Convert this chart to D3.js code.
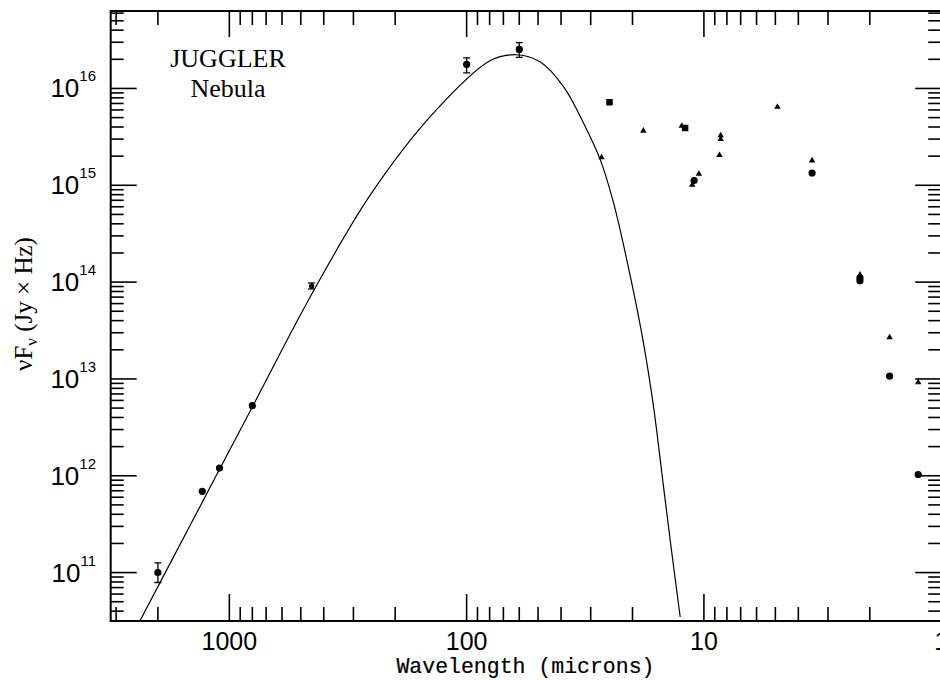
<!DOCTYPE html>
<html><head><meta charset="utf-8">
<script src="https://cdn.jsdelivr.net/npm/d3@7"></script>
<style>body{margin:0;background:#fff}</style>
</head><body>
<svg id="c" width="940" height="680"></svg>
<script>
// ---- axis ticks ----
const xMajorTicks = [1000, 100, 10, 1];
const xTickLabels = ["1000", "100", "10", "1"];
const yMajorTicks = [1e11, 1e12, 1e13, 1e14, 1e15, 1e16];
const yTickExponents = ["11", "12", "13", "14", "15", "16"];

// ---- photometry (wavelength in microns, nuFnu in Jy x Hz) ----
const circleWave = [2000, 1300, 1100, 800, 100, 60, 11, 3.5, 2.2, 2.2, 1.65, 1.25];
const circleFlux = [1.0e11, 6.9e11, 1.2e12, 5.3e12, 1.77e16, 2.53e16, 1.12e15, 1.34e15, 1.03e14, 1.1e14, 1.07e13, 1.03e12];
const smallWave = [450];
const smallFlux = [9.1e13];
const squareWave = [25, 12];
const squareFlux = [7.2e15, 3.9e15];
const triWave = [27, 18, 12.4, 8.5, 8.5, 8.6, 10.5, 11.2, 4.9, 3.5, 2.2, 1.65, 1.25];
const triFlux = [1.94e15, 3.65e15, 4.1e15, 3.27e15, 3.0e15, 2.05e15, 1.31e15, 1.01e15, 6.45e15, 1.8e15, 1.19e14, 2.68e13, 9.2e12];
const errWave = [2000, 450, 100, 60];
const errLow = [7.9e10, 8.5e13, 1.45e16, 2.09e16];
const errHigh = [1.26e11, 9.8e13, 2.07e16, 2.98e16];

// ---- model curve ----
const curveWave = [2403, 1455, 796, 454.7, 254.2, 137.5, 79.4, 62.3, 48.9, 39.0, 32.1, 27.3, 24.0, 20.4, 17.96, 16.3, 15.03, 13.87, 12.59];
const curveFlux = [3.04e10, 3.16e11, 5.26e12, 7.15e13, 8.0e14, 5.62e15, 1.94e16, 2.23e16, 1.88e16, 1.04e16, 4.35e15, 1.82e15, 6.49e14, 1.13e14, 2.32e13, 5.14e12, 1.05e12, 2.16e11, 3.48e10];

const svg = d3.select("#c");
const L = 110.7, R = 941.2, T = 11, B = 621;
const x = d3.scaleLog().domain([Math.pow(10, 3.5), 1]).range([L, R]);
const y = d3.scaleLog().domain([Math.pow(10, 10.5), Math.pow(10, 16.8)]).range([B, T]);

// minor ticks
const xMinor = [], yMinor = [];
for (let d = 0; d <= 3; d++) for (let k = 2; k <= 9; k++) {
  const v = k * Math.pow(10, d);
  if (v <= x.domain()[0]) xMinor.push(v);
}
for (let d = 10; d <= 16; d++) for (let k = 2; k <= 9; k++) {
  const v = k * Math.pow(10, d);
  if (v >= y.domain()[0] && v <= y.domain()[1]) yMinor.push(v);
}

const ax = svg.append("g").attr("stroke", "#000").attr("fill", "none");
// frame
ax.append("rect").attr("x", L).attr("y", T).attr("width", R - L).attr("height", B - T).attr("stroke-width", 2);
// bottom / top
xMajorTicks.forEach(v => {
  ax.append("line").attr("x1", x(v)).attr("x2", x(v)).attr("y1", B).attr("y2", B - 27).attr("stroke-width", 1.6);
  ax.append("line").attr("x1", x(v)).attr("x2", x(v)).attr("y1", T).attr("y2", T + 26).attr("stroke-width", 1.6);
});
xMinor.forEach(v => {
  ax.append("line").attr("x1", x(v)).attr("x2", x(v)).attr("y1", B).attr("y2", B - 14).attr("stroke-width", 1.6);
  ax.append("line").attr("x1", x(v)).attr("x2", x(v)).attr("y1", T).attr("y2", T + 14).attr("stroke-width", 1.6);
});
// left / right
yMajorTicks.forEach(v => {
  ax.append("line").attr("y1", y(v)).attr("y2", y(v)).attr("x1", L).attr("x2", L + 26).attr("stroke-width", 1.6);
  ax.append("line").attr("y1", y(v)).attr("y2", y(v)).attr("x1", R).attr("x2", R - 26).attr("stroke-width", 1.6);
});
yMinor.forEach(v => {
  ax.append("line").attr("y1", y(v)).attr("y2", y(v)).attr("x1", L).attr("x2", L + 13).attr("stroke-width", 1.6);
  ax.append("line").attr("y1", y(v)).attr("y2", y(v)).attr("x1", R).attr("x2", R - 13).attr("stroke-width", 1.6);
});

// tick labels
svg.append("g").selectAll("text").data(xMajorTicks).join("text")
  .attr("x", d => x(d)).attr("y", 650)
  .attr("text-anchor", "middle")
  .style("font-family", "'Liberation Sans', Arial, sans-serif").style("font-size", "25px")
  .text((d, i) => xTickLabels[i]);

const yl = svg.append("g").selectAll("text").data(yMajorTicks).join("text")
  .attr("x", 96).attr("y", d => y(d) + 9)
  .attr("text-anchor", "end")
  .style("font-family", "'Liberation Sans', Arial, sans-serif").style("font-size", "26px");
yl.append("tspan").text("10");
yl.append("tspan").attr("dy", -16).style("font-size", "15px").text((d, i) => yTickExponents[i]);

// axis titles
svg.append("text").attr("x", (L + R) / 2 - 0.5).attr("y", 673)
  .attr("text-anchor", "middle")
  .style("font-family", "'Liberation Mono', 'Courier New', monospace").style("font-size", "21.5px")
  .attr("stroke", "#000").attr("stroke-width", 0.2)
  .text("Wavelength (microns)");

const yt = svg.append("text").attr("transform", "translate(32,304) rotate(-90)")
  .attr("text-anchor", "middle")
  .style("font-family", "'Liberation Serif', 'Times New Roman', serif").style("font-size", "25px");
yt.append("tspan").text("νF");
yt.append("tspan").attr("dy", 5).style("font-size", "17px").text("ν");
yt.append("tspan").attr("dy", -5).text(" (Jy × Hz)");

// annotation
const ann = svg.append("text").attr("text-anchor", "middle")
  .style("font-family", "'Liberation Serif', 'Times New Roman', serif").style("font-size", "26px");
ann.append("tspan").attr("x", 228).attr("y", 67).text("JUGGLER");
ann.append("tspan").attr("x", 228).attr("y", 97).text("Nebula");

// clip
svg.append("clipPath").attr("id", "clip").append("rect")
  .attr("x", L).attr("y", T).attr("width", R - L).attr("height", B - T);

// model curve
const curvePts = curveWave.map((w, i) => [w, curveFlux[i]]);
svg.append("path").datum(curvePts)
  .attr("clip-path", "url(#clip)")
  .attr("fill", "none").attr("stroke", "#000").attr("stroke-width", 1.2)
  .attr("d", d3.line().x(d => x(d[0])).y(d => y(d[1])).curve(d3.curveCatmullRom.alpha(0.5)));

const pts = svg.append("g").attr("clip-path", "url(#clip)");
// error bars
errWave.forEach((w, i) => {
  const cx = x(w);
  pts.append("line").attr("x1", cx).attr("x2", cx).attr("y1", y(errLow[i])).attr("y2", y(errHigh[i])).attr("stroke", "#000").attr("stroke-width", 1.3);
  [errLow[i], errHigh[i]].forEach(v => pts.append("line").attr("x1", cx - 3.5).attr("x2", cx + 3.5).attr("y1", y(v)).attr("y2", y(v)).attr("stroke", "#000").attr("stroke-width", 1.3));
});
// circles
circleWave.forEach((w, i) => pts.append("circle").attr("cx", x(w)).attr("cy", y(circleFlux[i])).attr("r", 3.6).attr("fill", "#000"));
smallWave.forEach((w, i) => pts.append("circle").attr("cx", x(w)).attr("cy", y(smallFlux[i])).attr("r", 2.6).attr("fill", "#000"));
// squares
squareWave.forEach((w, i) => pts.append("path").attr("transform", `translate(${x(w)},${y(squareFlux[i])})`)
  .attr("d", d3.symbol(d3.symbolSquare, 42)()).attr("fill", "#000"));
// triangles
triWave.forEach((w, i) => pts.append("path").attr("transform", `translate(${x(w)},${y(triFlux[i])})`)
  .attr("d", d3.symbol(d3.symbolTriangle, 18)()).attr("fill", "#000"));
</script>
</body></html>
